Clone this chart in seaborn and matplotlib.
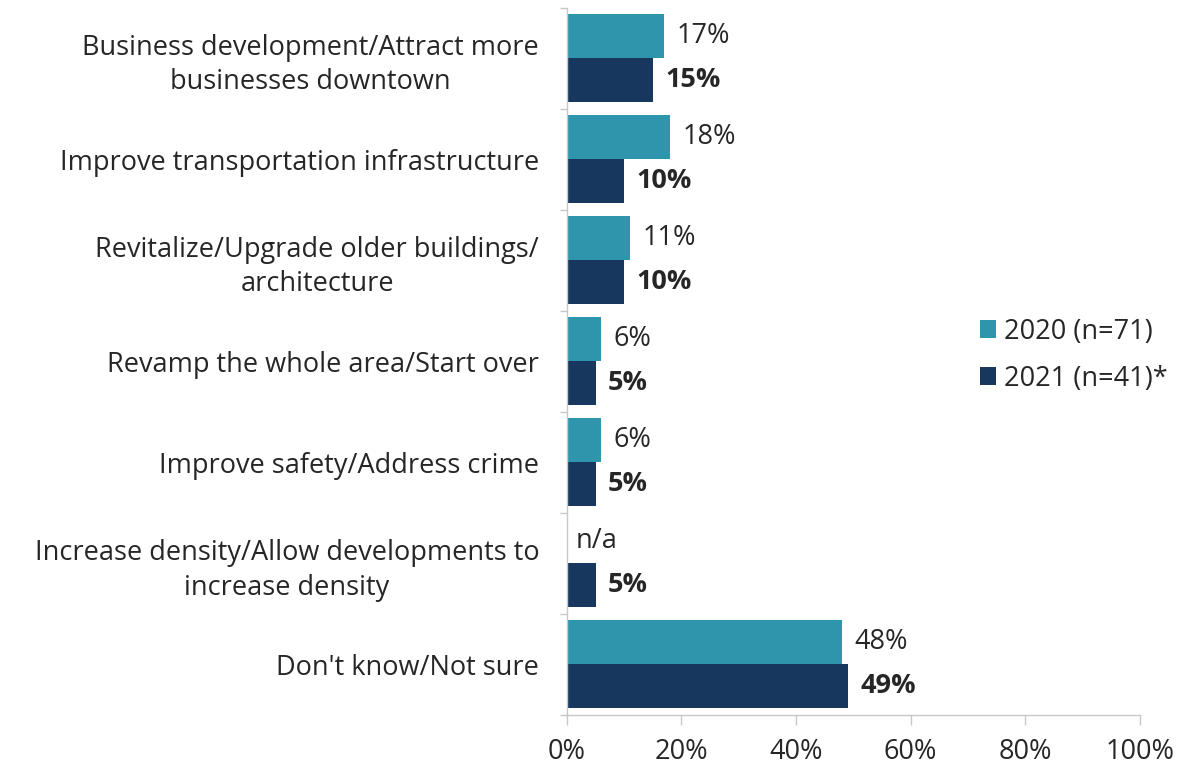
import numpy as np
import pandas as pd
import matplotlib
matplotlib.use("Agg")
import matplotlib.pyplot as plt
from matplotlib.ticker import FixedLocator, PercentFormatter
import seaborn as sns

categories = [
    "Business development/Attract more\nbusinesses downtown",
    "Improve transportation infrastructure",
    "Revitalize/Upgrade older buildings/\narchitecture",
    "Revamp the whole area/Start over",
    "Improve safety/Address crime",
    "Increase density/Allow developments to\nincrease density",
    "Don't know/Not sure",
]
values_2020 = [17, 18, 11, 6, 6, None, 48]
values_2021 = [15, 10, 10, 5, 5, 5, 49]
series_names = ["2020 (n=71)", "2021 (n=41)*"]
x_ticks = [0, 20, 40, 60, 80, 100]

colors = ["#2F95AD", "#17375E"]
text_color = "#262626"
axis_color = "#C8C8C8"
FS = 19.5

sns.set_theme(style="white")
plt.rcParams["font.family"] = ["Open Sans", "DejaVu Sans"]

rows = []
for cat, v0, v1 in zip(categories, values_2020, values_2021):
    rows.append({"category": cat, "series": series_names[0], "value": v0})
    rows.append({"category": cat, "series": series_names[1], "value": v1})
df = pd.DataFrame(rows)
df["missing"] = df["value"].isna()
df["plot_value"] = df["value"].fillna(0).astype(float)

fig = plt.figure(figsize=(11.96, 7.72), dpi=100)
ax = fig.add_axes([0.474, 0.074, 0.479, 0.916])

sns.barplot(
    data=df, x="plot_value", y="category", hue="series",
    order=categories, hue_order=series_names, palette=colors, saturation=1,
    orient="h", width=0.87, errorbar=None, linewidth=0, ax=ax,
)

# value labels: 2020 regular, 2021 bold, "n/a" where no 2020 figure exists
for series_idx, container in enumerate(ax.containers):
    sub = df[df["series"] == series_names[series_idx]].set_index("category").loc[categories]
    for patch, (_, row) in zip(container.patches, sub.iterrows()):
        y = patch.get_y() + patch.get_height() / 2
        label = "n/a" if row["missing"] else f"{int(row['value'])}%"
        ax.annotate(
            label, xy=(patch.get_width(), y),
            xytext=(6 if row["missing"] else 9, 0),
            textcoords="offset points", va="center", ha="left",
            fontsize=FS, color=text_color,
            fontweight="bold" if series_idx == 1 else "normal",
        )

ax.set_xlim(0, 100)
ax.set_ylim(len(categories) - 0.5, -0.5)
ax.xaxis.set_major_locator(FixedLocator(x_ticks))
ax.xaxis.set_major_formatter(PercentFormatter(decimals=0))
ax.set_xlabel("")
ax.set_ylabel("")

ax.tick_params(axis="x", which="major", length=7, width=1, color=axis_color,
               labelsize=FS, labelcolor=text_color, pad=10, direction="out", bottom=True)
ax.tick_params(axis="y", which="major", length=0, labelsize=FS,
               labelcolor=text_color, pad=20)
ax.yaxis.set_minor_locator(FixedLocator(np.arange(-0.5, len(categories), 1.0)))
ax.tick_params(axis="y", which="minor", length=5, width=1, color=axis_color,
               direction="out", left=True)
for lab in ax.get_yticklabels():
    lab.set_multialignment("center")
    lab.set_linespacing(1.32)

for side in ["top", "right"]:
    ax.spines[side].set_visible(False)
for side in ["left", "bottom"]:
    ax.spines[side].set_color(axis_color)
    ax.spines[side].set_linewidth(1)

handles, labels = ax.get_legend_handles_labels()
ax.legend(
    handles, labels, loc="center left", bbox_to_anchor=(0.799, 0.54),
    bbox_transform=fig.transFigure, frameon=False, fontsize=FS,
    handlelength=0.6, handleheight=0.6, handletextpad=0.3, labelspacing=0.7,
    labelcolor=text_color,
)

fig.savefig("out.png", dpi=100)
